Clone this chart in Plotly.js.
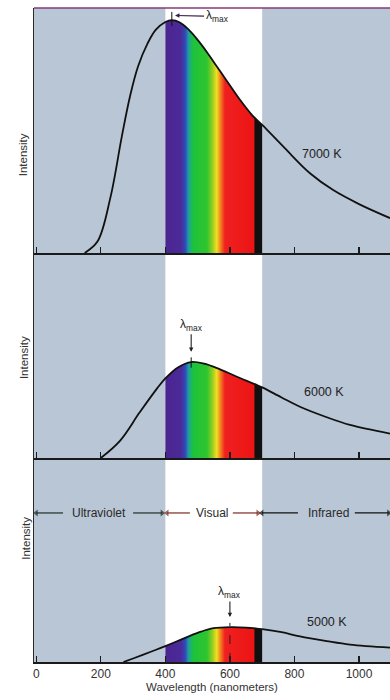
<!DOCTYPE html>
<html>
<head>
<meta charset="utf-8">
<script src="https://cdn.plot.ly/plotly-3.0.1.min.js"></script>
<style>
  html, body { margin: 0; padding: 0; background: #ffffff; }
  #chart { width: 390px; height: 700px; }
</style>
</head>
<body>
<div id="chart"></div>
<script>
// ---- Data (wavelength in nm, intensity in arbitrary units) ----
const wavelength7000 = [150, 190, 230, 265, 290, 315, 345, 370, 400, 420, 445, 470, 500, 530, 560, 590, 630, 670, 700, 770, 850, 920, 1000, 1096];
const intensity7000  = [0,   5,   24,  50,  67,  80,  90,  95.8, 99.2, 100, 99, 96.2, 91.5, 86, 80,  74,  66,  59,  55,  45,  34,  27,  21,   15];

const wavelength6000 = [200, 260, 320, 375, 400, 440, 480, 520, 560, 620, 684, 700, 760, 817, 900, 972, 1096];
const intensity6000  = [0,   7.5, 19.5, 30, 34.2, 39, 41.2, 40.5, 38.6, 35, 31.3, 30.3, 26, 22, 17.5, 14.2, 10.5];

const wavelength5000 = [270, 300, 353, 400, 467, 510, 549, 600, 650, 693, 700, 760, 817, 900, 972, 1096];
const intensity5000  = [0,   1.5, 4.3, 6.8, 10.7, 13, 14.5, 15, 14.8, 14.2, 14.1, 12.8, 11, 9, 7.5, 6.2];

const temperatureLabels = ['7000 K', '6000 K', '5000 K'];
const peakWavelengths = [420, 480, 600];
const tickValues = [0, 200, 400, 600, 800, 1000];
const tickLabels = ['0', '200', '400', '600', '800', '1000'];
const visualRange = [400, 700];
const regionLabels = ['Ultraviolet', 'Visual', 'Infrared'];

// spectrum colours across the visual band (fraction of 400-700 nm)
const spectrumStops = [
  [0.000, '#4a2590'], [0.160, '#4b2a98'], [0.205, '#3048b8'], [0.240, '#1fa0a0'],
  [0.285, '#1ec23c'], [0.430, '#2ec52e'], [0.490, '#9ccf22'], [0.530, '#f0e020'],
  [0.570, '#f28020'], [0.615, '#f02020'], [0.915, '#ec1414'], [0.925, '#101010'],
  [1.000, '#101010']
];

// ---- helpers ----
function visualSubset(xs, ys) {
  const ox = [], oy = [];
  xs.forEach((x, i) => { if (x >= visualRange[0] && x <= visualRange[1]) { ox.push(x); oy.push(ys[i]); } });
  return {x: ox, y: oy};
}

const panels = [
  {xs: wavelength7000, ys: intensity7000, xa: 'x',  ya: 'y',  label: temperatureLabels[0]},
  {xs: wavelength6000, ys: intensity6000, xa: 'x2', ya: 'y2', label: temperatureLabels[1]},
  {xs: wavelength5000, ys: intensity5000, xa: 'x3', ya: 'y3', label: temperatureLabels[2]}
];

const traces = [];
panels.forEach(p => {
  const v = visualSubset(p.xs, p.ys);
  traces.push({
    x: v.x, y: v.y, xaxis: p.xa, yaxis: p.ya, type: 'scatter', mode: 'lines',
    line: {width: 0, shape: 'spline', smoothing: 1},
    fill: 'tozeroy',
    fillgradient: {type: 'horizontal', start: visualRange[0], stop: visualRange[1], colorscale: spectrumStops},
    hoverinfo: 'skip', showlegend: false
  });
  traces.push({
    x: p.xs, y: p.ys, xaxis: p.xa, yaxis: p.ya, type: 'scatter', mode: 'lines',
    line: {color: '#111111', width: 1.8, shape: 'spline', smoothing: 1},
    hoverinfo: 'skip', showlegend: false
  });
});

// region arrows (Ultraviolet / Visual / Infrared) drawn as lines with triangle heads
const arrowRow = 64;
const regionArrows = [
  [83, 0, 'triangle-left', '#1f2f22'], [300, 390, 'triangle-right', '#1f2f22'],
  [476, 405, 'triangle-left', '#7a2a20'], [609, 687, 'triangle-right', '#7a2a20'],
  [811, 699, 'triangle-left', '#111111'], [987, 1092, 'triangle-right', '#111111']
];
regionArrows.forEach(a => {
  traces.push({
    x: [a[0], a[1]], y: [arrowRow, arrowRow], xaxis: 'x3', yaxis: 'y3', type: 'scatter', mode: 'lines+markers',
    line: {color: a[3], width: 1.2},
    marker: {symbol: ['circle', a[2]], size: [0, 6], color: a[3], line: {width: 0}},
    cliponaxis: false, hoverinfo: 'skip', showlegend: false
  });
});

const FONT = 'Liberation Sans, Arial, sans-serif';
const bg = '#b9c6d5';

function xaxisDef(anchor, labels) {
  return {
    anchor: anchor, domain: [0, 1], range: [-7, 1096],
    showgrid: false, zeroline: false,
    showline: true, linecolor: '#1a1a1a', linewidth: 1.6,
    ticks: 'inside', ticklen: 6, tickwidth: 1.2, tickcolor: '#1a1a1a',
    tickvals: tickValues, ticktext: tickLabels,
    showticklabels: labels,
    tickfont: {family: FONT, size: 12, color: '#333333'},
    fixedrange: true
  };
}
function yaxisDef(anchor, domain, top) {
  return {
    anchor: anchor, domain: domain, range: [0, top],
    showgrid: false, zeroline: false, showticklabels: false, ticks: '',
    showline: true, linecolor: '#2a2a2a', linewidth: 1.4,
    fixedrange: true
  };
}

const x3 = xaxisDef('y3', true);
x3.title = {text: 'Wavelength (nanometers)', font: {family: FONT, size: 11.5, color: '#333333'}, standoff: 3};

const shapes = [];
['y', 'y2', 'y3'].forEach((ya, i) => {
  const xa = ['x', 'x2', 'x3'][i];
  shapes.push({type: 'rect', xref: xa, yref: ya + ' domain', x0: visualRange[0], x1: visualRange[1], y0: 0, y1: 1,
    fillcolor: '#ffffff', line: {width: 0}, layer: 'below'});
});
// top border of first panel
shapes.push({type: 'line', xref: 'paper', yref: 'paper', x0: 0, x1: 1, y0: 1, y1: 1, line: {color: '#8a3a78', width: 1.6}});
// short marks at the peaks
shapes.push({type: 'line', xref: 'x', yref: 'y', x0: peakWavelengths[0], x1: peakWavelengths[0], y0: 97.5, y1: 103.5, line: {color: '#111', width: 1}});
shapes.push({type: 'line', xref: 'x2', yref: 'y2', x0: peakWavelengths[1], x1: peakWavelengths[1], y0: 38.8, y1: 43.2, line: {color: '#111', width: 1}});
shapes.push({type: 'line', xref: 'x3', yref: 'y3', x0: peakWavelengths[2], x1: peakWavelengths[2], y0: 0, y1: 16.8, line: {color: '#222', width: 1, dash: 'dash'}});

const annFont = {family: FONT, size: 12.5, color: '#222222'};
const annotations = [
  // Intensity labels
  {xref: 'paper', yref: 'paper', x: -0.051, y: 0.812, text: 'Intensity', textangle: -90, showarrow: false, font: {family: FONT, size: 11.5, color: '#333'}},
  {xref: 'paper', yref: 'paper', x: -0.051, y: 0.466, text: 'Intensity', textangle: -90, showarrow: false, font: {family: FONT, size: 11.5, color: '#333'}},
  {xref: 'paper', yref: 'paper', x: -0.045, y: 0.154, text: 'Intensity', textangle: -90, showarrow: false, font: {family: FONT, size: 11.5, color: '#333'}},
  // temperatures
  {xref: 'x', yref: 'y', x: 885, y: 42.5, text: panels[0].label, showarrow: false, font: annFont},
  {xref: 'x2', yref: 'y2', x: 891, y: 28.3, text: panels[1].label, showarrow: false, font: annFont},
  {xref: 'x3', yref: 'y3', x: 901, y: 17.2, text: panels[2].label, showarrow: false, font: annFont},
  // lambda max
  {xref: 'x', yref: 'y', x: 430, y: 102, text: 'λ<sub>max</sub>', showarrow: true, ax: 42, ay: 1,
    arrowhead: 2, arrowsize: 0.8, arrowwidth: 1.1, arrowcolor: '#3a1f4a', standoff: 0, font: {family: FONT, size: 12, color: '#222'}},
  {xref: 'x2', yref: 'y2', x: peakWavelengths[1], y: 45.6, text: 'λ<sub>max</sub>', showarrow: true, ax: 0, ay: -27,
    arrowhead: 2, arrowsize: 0.8, arrowwidth: 1.1, arrowcolor: '#222', standoff: 0, font: {family: FONT, size: 12, color: '#222'}},
  {xref: 'x3', yref: 'y3', x: peakWavelengths[2], y: 19.3, text: 'λ<sub>max</sub>', showarrow: true, ax: 0, ay: -25,
    arrowhead: 2, arrowsize: 0.8, arrowwidth: 1.1, arrowcolor: '#222', standoff: 0, font: {family: FONT, size: 12, color: '#222'}},
  // region labels
  {xref: 'x3', yref: 'y3', x: 193, y: arrowRow, text: regionLabels[0], showarrow: false, font: {family: FONT, size: 12, color: '#2a2a2a'}},
  {xref: 'x3', yref: 'y3', x: 543, y: arrowRow, text: regionLabels[1], showarrow: false, font: {family: FONT, size: 12, color: '#2a2a2a'}},
  {xref: 'x3', yref: 'y3', x: 904, y: arrowRow, text: regionLabels[2], showarrow: false, font: {family: FONT, size: 12, color: '#2a2a2a'}}
];

const layout = {
  width: 390, height: 700,
  margin: {l: 34, r: 0, t: 8, b: 38},
  paper_bgcolor: '#ffffff', plot_bgcolor: bg,
  showlegend: false,
  font: {family: FONT},
  xaxis: xaxisDef('y', false),
  xaxis2: xaxisDef('y2', false),
  xaxis3: x3,
  yaxis: yaxisDef('x', [0.6254, 1], 105.2),
  yaxis2: yaxisDef('x2', [0.3119, 0.6254], 88),
  yaxis3: yaxisDef('x3', [0, 0.3119], 87.6),
  shapes: shapes,
  annotations: annotations
};

Plotly.newPlot('chart', traces, layout, {displayModeBar: false, staticPlot: true});
</script>
</body>
</html>
